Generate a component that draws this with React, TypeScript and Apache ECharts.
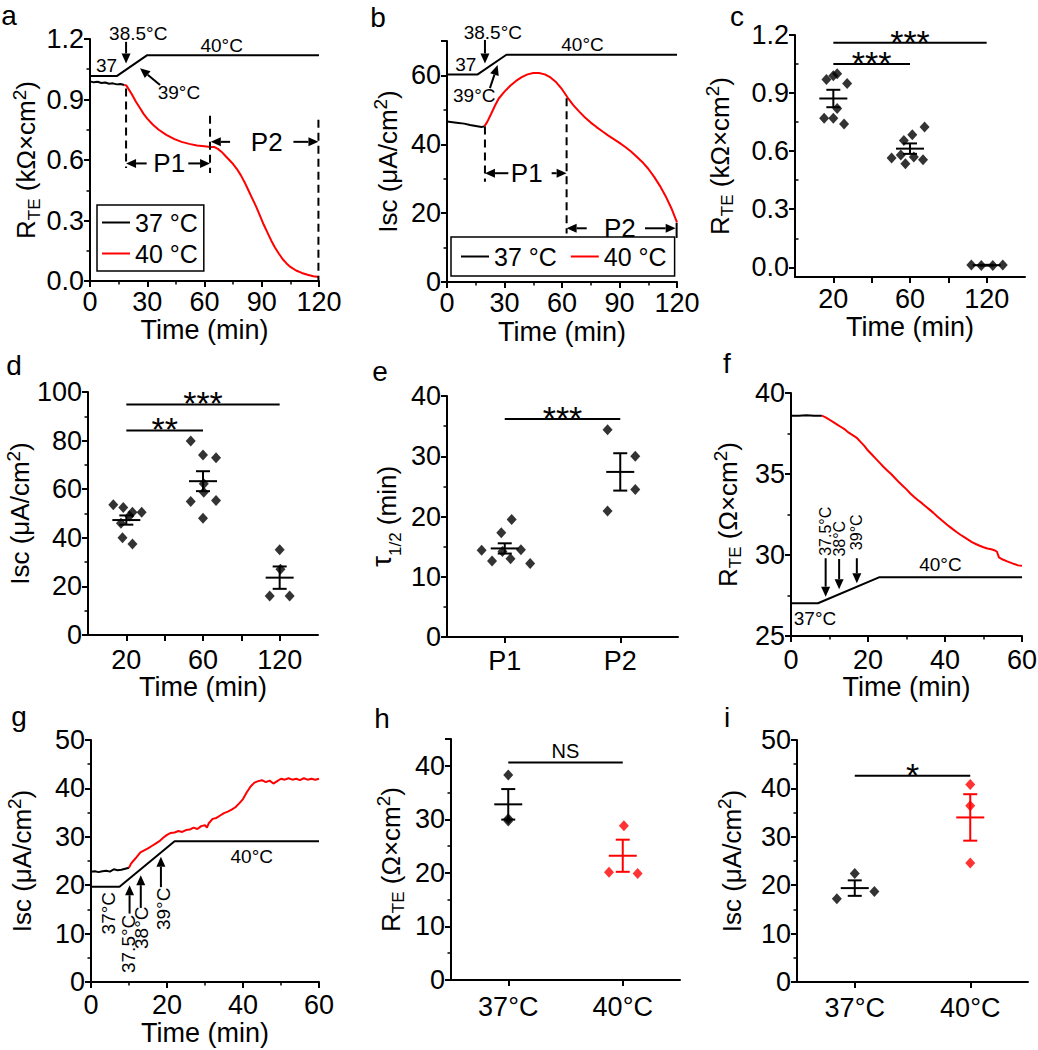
import React, { useEffect, useRef } from 'react';
import * as echarts from 'echarts';

const FONT = "'Liberation Sans', Arial, Helvetica, sans-serif";
const BLACK = '#000000';
const RED = '#ff0000';

// ---------- Panel a: R_TE time course (kΩ×cm²) ----------
const aTemperature = [[0, 1.016], [14, 1.016], [30, 1.12], [120, 1.12]];
const aRte37 = [[0, 0.99], [2, 0.985], [4, 0.988], [6, 0.982], [8, 0.984], [10, 0.978], [12, 0.98], [14, 0.975], [16, 0.977], [18, 0.972]];
const aRte40 = [[18, 0.972], [19, 0.97], [20, 0.955], [22, 0.925], [24, 0.89], [26, 0.86], [28, 0.83], [30, 0.805], [33, 0.775], [36, 0.75], [40, 0.725], [44, 0.705], [48, 0.69], [52, 0.68], [56, 0.672], [60, 0.668], [63, 0.665], [65, 0.665], [67, 0.655], [69, 0.64], [71, 0.62], [73, 0.6], [75, 0.58], [77, 0.555], [79, 0.525], [81, 0.49], [83, 0.45], [85, 0.41], [87, 0.37], [89, 0.325], [91, 0.28], [93, 0.24], [95, 0.2], [97, 0.165], [99, 0.135], [101, 0.108], [103, 0.087], [105, 0.07], [108, 0.052], [111, 0.04], [114, 0.031], [117, 0.024], [120, 0.02]];
const aDashed = [[18.9, 0.955, 0.56], [62.9, 0.82, 0.535], [119.7, 0.8, 0]];
const aArrows = [[18.9, 1.186, 18.9, 1.079], [36.7, 0.972, 26.2, 1.055], [29.7, 0.583, 18.9, 0.583], [51.5, 0.583, 62.9, 0.583], [73.4, 0.69, 63.3, 0.69], [106.6, 0.69, 119.7, 0.69]];
const aNotes = [['37', 8.7, 1.071], ['38.5°C', 25.3, 1.225], ['40°C', 69, 1.166], ['39°C', 46.6, 0.935]];
const aPeriods = [['P1', 41.5, 0.583], ['P2', 92.6, 0.69]];

// ---------- Panel b: Isc time course (µA/cm²) ----------
const bTemperature = [[0, 60.3], [16, 60.3], [31, 66], [120, 66]];
const bIsc37 = [[0, 46.6], [3, 46.4], [6, 46.2], [9, 46], [12, 45.6], [15, 45.3], [18, 45.0], [19.5, 45.2]];
const bIsc40 = [[19.5, 45.2], [21, 46.5], [23, 48.8], [25, 51.2], [27, 53.3], [30, 55.3], [33, 57], [36, 58.4], [39, 59.5], [42, 60.3], [45, 60.7], [48, 60.7], [51, 60.3], [54, 59.4], [57, 58], [60, 56], [63, 53.5], [66, 51.3], [69, 49.5], [72, 47.8], [75, 46.3], [78, 45], [81, 43.8], [84, 42.6], [87, 41.5], [90, 40.4], [93, 39.2], [96, 37.9], [99, 36.4], [102, 34.8], [105, 32.9], [108, 30.6], [111, 28], [114, 25], [117, 21.5], [120, 17.3]];
const bDashed = [[19.8, 45.2, 29.1], [62.4, 53.4, 14.1]];
const bBars = [[119.8, 17.2, 12.8]];
const bArrows = [[19.8, 70.3, 19.8, 63.5], [22.4, 56.3, 26.4, 63], [32, 31.6, 19.8, 31.6], [54.6, 31.6, 62.4, 31.6], [72.9, 15.6, 62.4, 15.6], [103.3, 15.6, 119.3, 15.6]];
const bNotes = [['38.5°C', 23.9, 72.5], ['37', 9.8, 63.3], ['40°C', 70.7, 69], ['39°C', 14.2, 54.3]];
const bPeriods = [['P1', 41.6, 31.6], ['P2', 90.2, 15.6]];

// ---------- Panel c: R_TE at 20/60/120 min ----------
const cCategories = ['20', '60', '120'];
const cValues20 = [0.97, 0.99, 1.0, 0.95, 0.82, 0.77, 0.77, 0.74];
const cJitter20 = [-0.09, 0.0, 0.05, 0.18, 0.05, -0.12, 0.0, 0.14];
const cValues60 = [0.565, 0.58, 0.535, 0.57, 0.555, 0.655, 0.685, 0.725];
const cJitter60 = [-0.24, -0.12, -0.06, 0.05, 0.17, -0.08, 0.03, 0.19];
const cValues120 = [0.012, 0.01, 0.01, 0.012];
const cJitter120 = [-0.2, -0.07, 0.08, 0.21];
const cMeans = [0.872, 0.613, 0.011];
const cSems = [0.045, 0.027, 0.002];
const cSignificance = [[0.5, 2.5, 1.16, '***'], [0.5, 1.5, 1.05, '***']];

// ---------- Panel d: Isc at 20/60/120 min ----------
const dCategories = ['20', '60', '120'];
const dValues20 = [53.6, 52.5, 50.5, 50.5, 46, 49, 40, 37.5];
const dJitter20 = [-0.17, -0.04, 0.08, 0.2, -0.07, 0.04, -0.05, 0.08];
const dValues60 = [79.8, 74.1, 72.9, 62.2, 58.7, 54.9, 55.3, 48];
const dJitter60 = [-0.16, 0, 0.17, 0.01, 0.01, -0.16, 0.17, 0];
const dValues120 = [35.1, 27.1, 16, 16];
const dJitter120 = [0, 0.01, -0.13, 0.13];
const dMeans = [47.3, 63.3, 23.6];
const dSems = [1.9, 4.1, 4.6];
const dSignificance = [[0.5, 2.5, 94.9, '***'], [0.5, 1.5, 84.2, '**']];

// ---------- Panel e: tau 1/2 for P1 / P2 ----------
const eCategories = ['P1', 'P2'];
const eValuesP1 = [14.4, 12.6, 17.3, 19.5, 14.2, 13.0, 14.5, 12.2];
const eJitterP1 = [-0.2, -0.11, -0.03, 0.06, -0.02, 0.05, 0.14, 0.22];
const eValuesP2 = [34.4, 30, 24.5, 20.9];
const eJitterP2 = [-0.11, 0.13, 0.13, -0.11];
const eMeans = [14.7, 27.4];
const eSems = [0.85, 3.1];
const eSignificance = [[0.5, 1.5, 36.2, '***']];

// ---------- Panel f: R_TE (Ω×cm²) time course ----------
const fTemperature = [[0, 27.02], [7, 27.02], [23, 28.63], [60, 28.63]];
const fRte37 = [[0, 38.6], [2, 38.6], [4, 38.62], [6, 38.6], [8, 38.6]];
const fRte40 = [[8, 38.6], [9, 38.5], [10, 38.35], [11, 38.2], [12, 38.05], [13, 37.9], [14, 37.75], [15, 37.55], [16, 37.4], [17, 37.25], [18, 37.0], [19, 36.75], [20, 36.45], [21, 36.2], [22, 35.95], [23, 35.7], [24, 35.45], [25, 35.22], [26, 35.0], [27, 34.75], [28, 34.5], [29, 34.28], [30, 34.05], [31, 33.8], [32, 33.58], [33, 33.38], [34, 33.2], [35, 33.0], [36, 32.8], [37, 32.6], [38, 32.38], [39, 32.18], [40, 31.98], [41, 31.78], [42, 31.6], [43, 31.42], [44, 31.25], [45, 31.1], [46, 30.95], [47, 30.8], [48, 30.68], [49, 30.57], [50, 30.48], [51, 30.4], [52, 30.35], [53, 30.28], [53.5, 30.2], [54, 29.85], [55, 29.72], [56, 29.62], [57, 29.53], [58, 29.44], [59, 29.36], [60, 29.33]];
const fArrows = [[9, 29.8, 9, 27.43], [12.5, 29.75, 12.5, 27.89], [17.1, 29.8, 17.1, 28.26]];
const fRotated = [['37.5°C', 9, 29.95], ['38°C', 12.5, 29.9], ['39°C', 17.1, 30.3]];
const fNotes = [['40°C', 38.8, 29.39], ['37°C', 6.24, 26.09]];

// ---------- Panel g: Isc (µA/cm²) time course ----------
const gTemperature = [[0, 19.66], [7.5, 19.66], [22, 29.1], [60, 29.1]];
const gIsc37 = [[0, 22.8], [1, 22.9], [2, 22.7], [3, 22.9], [4, 23.0], [5, 22.8], [6, 23.3], [7, 23.1], [8, 23.2], [9, 23.4], [10, 23.6]];
const gIsc40 = [[10, 23.6], [10.5, 24.4], [11, 24.9], [12, 25.8], [13, 26.8], [14, 27.2], [15, 27.6], [16, 28.1], [17, 28.6], [18, 29.1], [19, 29.8], [20, 30.4], [21, 30.8], [22, 30.9], [23, 31.2], [24, 31.0], [25, 31.4], [26, 31.5], [27, 31.9], [28, 31.6], [29, 32.2], [30, 32.4], [30.5, 31.9], [31, 32.8], [32, 33.7], [33, 33.9], [34, 34.4], [35, 34.9], [36, 35.2], [37, 35.6], [38, 36.1], [39, 36.9], [40, 37.8], [41, 39.2], [42, 40.4], [43, 41.2], [44, 41.5], [45, 41.7], [46, 41.3], [47, 41.6], [48, 41.0], [49, 41.5], [50, 42.0], [51, 41.8], [52, 42.1], [53, 41.8], [54, 42.0], [55, 41.7], [56, 42.1], [57, 41.8], [58, 42.0], [59, 41.8], [60, 42.0]];
const gArrows = [[10.15, 14.14, 10.15, 20.0], [13.1, 15.3, 13.1, 22.07], [18.4, 19.6, 18.4, 25.86]];
const gRotated = [['37°C', 4.6, 18.6], ['37.5°C', 9.9, 13.9], ['38°C', 13.4, 15.6], ['39°C', 19.1, 19.5]];
const gNotes = [['40°C', 42.3, 25.86]];

// ---------- Panel h: R_TE 37 vs 40 ----------
const hCategories = ['37°C', '40°C'];
const hValues37 = [38.3, 30.1, 29.7];
const hJitter37 = [0, 0, 0];
const hValues40 = [28.8, 20.1, 19.9];
const hJitter40 = [0.01, -0.12, 0.13];
const hMeans = [32.8, 23.2];
const hSems = [2.85, 3.0];
const hSignificance = [[0.5, 1.5, 40.6, 'NS']];

// ---------- Panel i: Isc 37 vs 40 ----------
const iCategories = ['37°C', '40°C'];
const iValues37 = [17.2, 22.4, 18.7];
const iJitter37 = [-0.155, 0, 0.17];
const iValues40 = [40.8, 36.4, 24.6];
const iJitter40 = [0, 0, 0];
const iMeans = [19.4, 34.0];
const iSems = [1.6, 4.8];
const iSignificance = [[0.5, 1.5, 42.6, '*']];

// ---------------- helpers ----------------
const axisLineStyle = { show: true, onZero: false, lineStyle: { color: BLACK, width: 2 } };
const tickStyle = { show: true, inside: false, length: 6, lineStyle: { color: BLACK, width: 2 } };
const minorStyle = { show: true, splitNumber: 2, length: 3.5, lineStyle: { color: BLACK, width: 1.5 } };
const labelStyle = { color: BLACK, fontSize: 27, fontFamily: FONT, fontWeight: 'normal' };
const nameStyle = { color: BLACK, fontSize: 27, fontFamily: FONT, fontWeight: 'normal' };
const nameRich = {
  r: { fontSize: 26, fontFamily: FONT, color: BLACK, fontWeight: 'normal' },
  s: { fontSize: 17, fontFamily: FONT, color: BLACK, fontWeight: 'normal', padding: [16, 0, 0, 0] },
  p: { fontSize: 19, fontFamily: FONT, color: BLACK, fontWeight: 'normal', padding: [0, 0, 14, 0] },
  t: { fontSize: 28, fontFamily: FONT, color: BLACK, fontWeight: 'normal', padding: [0, 0, 12, 0] },
};
const RTE_K = '{r|R}{s|TE}{r| (kΩ×cm}{p|2}{r|)}';
const RTE = '{r|R}{s|TE}{r| (Ω×cm}{p|2}{r|)}';
const ISC = '{r|Isc (μA/cm}{p|2}{r|)}';
const TAU = '{t|τ}{s|1/2}{r| (min)}';

function xValueAxis(gi: number, min: number, max: number, interval: number, margin: number, nameGap: number) {
  return {
    type: 'value', gridIndex: gi, min, max, interval,
    axisLine: axisLineStyle, axisTick: tickStyle, minorTick: minorStyle,
    splitLine: { show: false }, minorSplitLine: { show: false },
    axisLabel: { ...labelStyle, margin, showMinLabel: true, showMaxLabel: true },
    name: 'Time (min)', nameLocation: 'middle', nameGap,
    nameTextStyle: nameStyle,
  };
}

function xCatAxis(gi: number, cats: string[], ticks: number[], margin: number, name: string, nameGap: number) {
  return {
    type: 'value', gridIndex: gi, min: 0, max: cats.length,
    axisLine: axisLineStyle,
    axisTick: { ...tickStyle, customValues: ticks },
    axisLabel: { ...labelStyle, margin, customValues: cats.map((_, k) => k + 0.5), formatter: (v: number) => cats[Math.floor(v)] ?? '' },
    splitLine: { show: false },
    name, nameLocation: 'middle', nameGap,
    nameTextStyle: nameStyle,
  };
}

function yValueAxis(gi: number, min: number, max: number, interval: number, name: string, nameGap: number, digits = 0) {
  return {
    type: 'value', gridIndex: gi, min, max, interval,
    axisLine: axisLineStyle, axisTick: tickStyle, minorTick: minorStyle,
    splitLine: { show: false }, minorSplitLine: { show: false },
    axisLabel: {
      ...labelStyle, margin: 6,
      formatter: (v: number) => {
        const k = (v - min) / interval;
        return Math.abs(k - Math.round(k)) < 1e-6 ? v.toFixed(digits) : '';
      },
    },
    name, nameLocation: 'middle', nameGap, nameRotate: 90,
    nameTextStyle: { ...nameStyle, fontSize: 26, rich: nameRich },
  };
}

function lineSeries(idx: number, name: string, data: number[][], color: string) {
  return {
    type: 'line', name, xAxisIndex: idx, yAxisIndex: idx, data,
    symbol: 'none', showSymbol: false, smooth: false, silent: true, z: 3,
    lineStyle: { color, width: 2 }, itemStyle: { color },
  };
}

function scatterSeries(idx: number, cat: number, values: number[], jitter: number[], color: string) {
  return {
    type: 'scatter', xAxisIndex: idx, yAxisIndex: idx, silent: true, z: 4,
    data: values.map((v, k) => [cat + 0.5 + jitter[k], v]),
    symbol: 'diamond', symbolSize: [10, 11], itemStyle: { color },
  };
}

function meanSemSeries(idx: number, means: number[], sems: number[], colors: string[]) {
  return {
    type: 'custom', xAxisIndex: idx, yAxisIndex: idx, silent: true, z: 5,
    data: means.map((m, k) => [k + 0.5, m, sems[k]]),
    renderItem: (params: any, api: any) => {
      const x = api.value(0), m = api.value(1), s = api.value(2);
      const c = api.coord([x, m]);
      const t = api.coord([x, m + s]);
      const b = api.coord([x, m - s]);
      const st = { stroke: colors[params.dataIndex], lineWidth: 2 };
      return {
        type: 'group', children: [
          { type: 'line', shape: { x1: c[0] - 14, y1: c[1], x2: c[0] + 14, y2: c[1] }, style: st },
          { type: 'line', shape: { x1: c[0], y1: t[1], x2: c[0], y2: b[1] }, style: st },
          { type: 'line', shape: { x1: c[0] - 7, y1: t[1], x2: c[0] + 7, y2: t[1] }, style: st },
          { type: 'line', shape: { x1: c[0] - 7, y1: b[1], x2: c[0] + 7, y2: b[1] }, style: st },
        ],
      };
    },
  };
}

function significanceSeries(idx: number, bars: any[]) {
  return {
    type: 'custom', xAxisIndex: idx, yAxisIndex: idx, silent: true, z: 5,
    data: bars.map((b) => [b[0], b[2], b[1]]),
    renderItem: (params: any, api: any) => {
      const label = bars[params.dataIndex][3] as string;
      const p1 = api.coord([api.value(0), api.value(1)]);
      const p2 = api.coord([api.value(2), api.value(1)]);
      const isStar = label.indexOf('*') >= 0;
      return {
        type: 'group', children: [
          { type: 'line', shape: { x1: p1[0], y1: p1[1], x2: p2[0], y2: p2[1] }, style: { stroke: BLACK, lineWidth: 2 } },
          {
            type: 'text', x: (p1[0] + p2[0]) / 2, y: isStar ? p1[1] - 1 : p1[1] - 12,
            style: { text: label, fill: BLACK, fontSize: isStar ? 34 : 20, fontFamily: FONT, align: 'center', verticalAlign: 'middle' },
          },
        ],
      };
    },
  };
}

function segmentSeries(idx: number, segs: number[][], dashed: boolean) {
  return {
    type: 'custom', xAxisIndex: idx, yAxisIndex: idx, silent: true, z: 5,
    data: segs.map((s) => [s[0], s[1], s[2]]),
    renderItem: (params: any, api: any) => {
      const x = api.value(0);
      const a = api.coord([x, api.value(1)]);
      const b = api.coord([x, api.value(2)]);
      return {
        type: 'line', shape: { x1: a[0], y1: a[1], x2: b[0], y2: b[1] },
        style: { stroke: BLACK, lineWidth: 2, lineDash: dashed ? [8, 5] : null },
      };
    },
  };
}

function arrowSeries(idx: number, arrows: number[][]) {
  return {
    type: 'custom', xAxisIndex: idx, yAxisIndex: idx, silent: true, z: 6,
    data: arrows.map((a) => [a[0], a[1], a[2], a[3]]),
    renderItem: (params: any, api: any) => {
      const p1 = api.coord([api.value(0), api.value(1)]);
      const p2 = api.coord([api.value(2), api.value(3)]);
      const dx = p2[0] - p1[0], dy = p2[1] - p1[1];
      const L = Math.hypot(dx, dy) || 1;
      const ux = dx / L, uy = dy / L;
      const head = 10, hw = 4.5;
      const bx = p2[0] - ux * head, by = p2[1] - uy * head;
      return {
        type: 'group', children: [
          { type: 'line', shape: { x1: p1[0], y1: p1[1], x2: bx, y2: by }, style: { stroke: BLACK, lineWidth: 2 } },
          { type: 'polygon', shape: { points: [[p2[0], p2[1]], [bx - uy * hw, by + ux * hw], [bx + uy * hw, by - ux * hw]] }, style: { fill: BLACK } },
        ],
      };
    },
  };
}

function textSeries(idx: number, notes: any[], fontSize: number, rotation = 0, align = 'center') {
  return {
    type: 'custom', xAxisIndex: idx, yAxisIndex: idx, silent: true, z: 6,
    data: notes.map((n) => [n[1], n[2]]),
    renderItem: (params: any, api: any) => {
      const p = api.coord([api.value(0), api.value(1)]);
      return {
        type: 'text', x: p[0], y: p[1], rotation,
        style: { text: notes[params.dataIndex][0], fill: BLACK, fontSize, fontFamily: FONT, align, verticalAlign: 'middle' },
      };
    },
  };
}

const panelLetters = [
  ['a', 9, 15], ['b', 378, 17], ['c', 737, 16],
  ['d', 14, 365], ['e', 380, 371], ['f', 727, 363],
  ['g', 19, 716], ['h', 382, 718], ['i', 727, 717],
];

function buildOption() {
  const grids = [
    { left: 90, top: 39, width: 229, height: 242 },
    { left: 447, top: 41, width: 230, height: 241 },
    { left: 795, top: 35, width: 230, height: 242 },
    { left: 88, top: 392, width: 230, height: 243 },
    { left: 447, top: 396, width: 231, height: 241 },
    { left: 791, top: 393, width: 231, height: 243 },
    { left: 91, top: 740, width: 228, height: 242 },
    { left: 451, top: 739, width: 229, height: 241 },
    { left: 797, top: 740, width: 231, height: 242 },
  ].map((g) => ({ ...g, outerBoundsMode: 'none', containLabel: false, show: false }));

  const xAxis = [
    xValueAxis(0, 0, 120, 30, 7, 35),
    xValueAxis(1, 0, 120, 30, 7, 36),
    xCatAxis(2, cCategories, [0.5, 1, 1.5, 2, 2.5], 8, 'Time (min)', 36),
    xCatAxis(3, dCategories, [0.5, 1, 1.5, 2, 2.5], 11, 'Time (min)', 37),
    xCatAxis(4, eCategories, [0.5, 1.5], 10, '', 30),
    xValueAxis(5, 0, 60, 20, 10, 36),
    xValueAxis(6, 0, 60, 20, 9, 37),
    xCatAxis(7, hCategories, [0.5, 1.5], 13, '', 30),
    xCatAxis(8, iCategories, [0.5, 1.5], 12, '', 30),
  ];

  const yAxis: any[] = [
    yValueAxis(0, 0, 1.2, 0.3, RTE_K, 46, 1),
    yValueAxis(1, 0, 70, 20, ISC, 43),
    {
      type: 'value', gridIndex: 2, min: -0.05, max: 1.2,
      axisLine: axisLineStyle,
      axisTick: { ...tickStyle, customValues: [0, 0.3, 0.6, 0.9, 1.2] },
      axisLabel: { ...labelStyle, margin: 6, customValues: [0, 0.3, 0.6, 0.9, 1.2], formatter: (v: number) => v.toFixed(1) },
      splitLine: { show: false },
      name: RTE_K, nameLocation: 'middle', nameGap: 59, nameRotate: 90,
      nameTextStyle: { ...nameStyle, fontSize: 26, rich: nameRich },
    },
    yValueAxis(3, 0, 100, 20, ISC, 48),
    yValueAxis(4, 0, 40, 10, TAU, 40),
    yValueAxis(5, 25, 40, 5, RTE, 47),
    yValueAxis(6, 0, 50, 10, ISC, 53),
    yValueAxis(7, 0, 45, 10, RTE, 44),
    yValueAxis(8, 0, 50, 10, ISC, 49),
    {
      type: 'value', gridIndex: 2, min: -0.05, max: 1.2,
      axisLine: { show: false },
      axisTick: { show: true, inside: false, length: 3.5, lineStyle: { color: BLACK, width: 1.5 }, customValues: [0.15, 0.45, 0.75, 1.05] },
      axisLabel: { show: false }, splitLine: { show: false },
    },
  ];

  const series: any[] = [
    // a
    lineSeries(0, 'temp-a', aTemperature, BLACK),
    lineSeries(0, '37 °C', aRte37, BLACK),
    lineSeries(0, '40 °C', aRte40, RED),
    segmentSeries(0, aDashed, true),
    arrowSeries(0, aArrows),
    textSeries(0, aNotes, 19),
    textSeries(0, aPeriods, 26),
    // b
    lineSeries(1, 'temp-b', bTemperature, BLACK),
    lineSeries(1, '37 °C', bIsc37, BLACK),
    lineSeries(1, '40 °C', bIsc40, RED),
    segmentSeries(1, bDashed, true),
    segmentSeries(1, bBars, false),
    arrowSeries(1, bArrows),
    textSeries(1, bNotes, 19),
    textSeries(1, bPeriods, 26),
    // c
    scatterSeries(2, 0, cValues20, cJitter20, BLACK),
    scatterSeries(2, 1, cValues60, cJitter60, BLACK),
    scatterSeries(2, 2, cValues120, cJitter120, BLACK),
    meanSemSeries(2, cMeans, cSems, [BLACK, BLACK, BLACK]),
    significanceSeries(2, cSignificance),
    // d
    scatterSeries(3, 0, dValues20, dJitter20, BLACK),
    scatterSeries(3, 1, dValues60, dJitter60, BLACK),
    scatterSeries(3, 2, dValues120, dJitter120, BLACK),
    meanSemSeries(3, dMeans, dSems, [BLACK, BLACK, BLACK]),
    significanceSeries(3, dSignificance),
    // e
    scatterSeries(4, 0, eValuesP1, eJitterP1, BLACK),
    scatterSeries(4, 1, eValuesP2, eJitterP2, BLACK),
    meanSemSeries(4, eMeans, eSems, [BLACK, BLACK]),
    significanceSeries(4, eSignificance),
    // f
    lineSeries(5, 'temp-f', fTemperature, BLACK),
    lineSeries(5, 'f37', fRte37, BLACK),
    lineSeries(5, 'f40', fRte40, RED),
    arrowSeries(5, fArrows),
    textSeries(5, fRotated, 16, Math.PI / 2, 'left'),
    textSeries(5, fNotes, 19),
    // g
    lineSeries(6, 'temp-g', gTemperature, BLACK),
    lineSeries(6, 'g37', gIsc37, BLACK),
    lineSeries(6, 'g40', gIsc40, RED),
    arrowSeries(6, gArrows),
    textSeries(6, gRotated, 19, Math.PI / 2, 'right'),
    textSeries(6, gNotes, 19),
    // h
    scatterSeries(7, 0, hValues37, hJitter37, BLACK),
    scatterSeries(7, 1, hValues40, hJitter40, RED),
    meanSemSeries(7, hMeans, hSems, [BLACK, RED]),
    significanceSeries(7, hSignificance),
    // i
    scatterSeries(8, 0, iValues37, iJitter37, BLACK),
    scatterSeries(8, 1, iValues40, iJitter40, RED),
    meanSemSeries(8, iMeans, iSems, [BLACK, RED]),
    significanceSeries(8, iSignificance),
  ];

  const legendCommon = {
    selectedMode: false, borderColor: BLACK, borderWidth: 1.5, borderRadius: 0,
    backgroundColor: 'transparent', icon: 'rect', itemWidth: 28, itemHeight: 2,
    textStyle: { color: BLACK, fontSize: 25, fontFamily: FONT, fontWeight: 'normal' },
    data: ['37 °C', '40 °C'],
  };

  return {
    animation: false,
    backgroundColor: '#ffffff',
    textStyle: { fontFamily: FONT, fontWeight: 'normal' },
    grid: grids,
    xAxis,
    yAxis,
    legend: [
      { ...legendCommon, orient: 'vertical', left: 97, top: 205, padding: [5, 6, 5, 5], itemGap: 6 },
      { ...legendCommon, orient: 'horizontal', left: 451, top: 237, padding: [7, 8, 7, 10], itemGap: 14 },
    ],
    graphic: panelLetters.map((l) => ({
      type: 'text', x: l[1], y: l[2], silent: true,
      style: { text: l[0], fill: BLACK, fontSize: 28, fontFamily: FONT, align: 'center', verticalAlign: 'middle' },
    })),
    series,
  };
}

export default function App() {
  const ref = useRef<HTMLDivElement>(null);
  useEffect(() => {
    if (!ref.current) return;
    const chart = echarts.init(ref.current, undefined, { renderer: 'svg' });
    chart.setOption(buildOption() as any);
    return () => chart.dispose();
  }, []);
  return <div ref={ref} style={{ position: 'absolute', left: 0, top: 0, width: 1038, height: 1050, background: '#fff' }} />;
}
